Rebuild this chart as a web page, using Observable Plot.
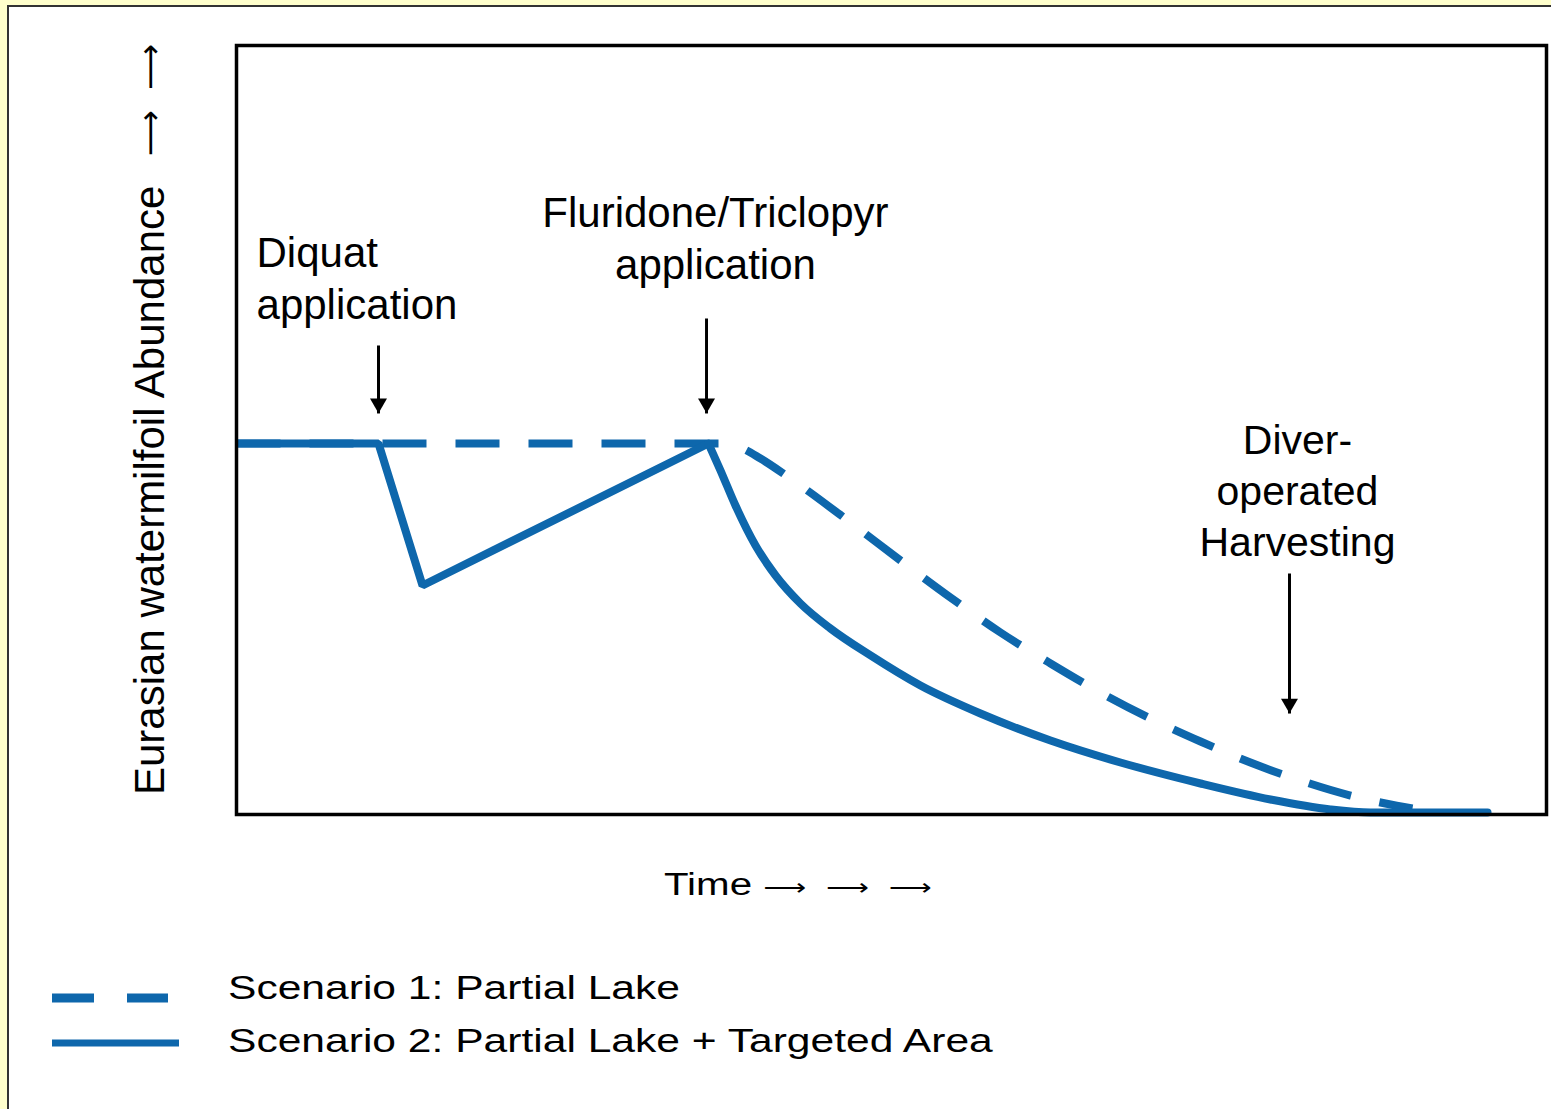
<!DOCTYPE html>
<html><head><meta charset="utf-8">
<script src="https://cdn.jsdelivr.net/npm/d3@7"></script>
<script src="https://cdn.jsdelivr.net/npm/@observablehq/plot@0.6"></script>
<style>
html,body{margin:0;padding:0;background:#FFFFCC;width:1551px;height:1109px;overflow:hidden;font-family:"Liberation Sans",Arial,sans-serif;}
#panel{position:absolute;left:7px;top:5px;width:1600px;height:1200px;background:#fff;border-left:2px solid #333;border-top:2px solid #333;}
#chart{position:absolute;left:0;top:0;}
.lbl{position:absolute;white-space:pre;color:#000;transform-origin:0 0;line-height:1;}
.arr{font-family:"DejaVu Sans",sans-serif;}
.sw{position:absolute;}
</style></head><body>
<div id="panel"></div>
<div id="chart"></div>
<div id="below"></div>
<script>
// ---- data (time and abundance in arbitrary 0–100 units) ----
const s1Time      = [0, 36.95, 38.47, 40.00, 42.29, 46.87, 50.69, 54.50, 58.32, 62.14, 65.95, 69.77, 73.59, 77.40, 81.22, 85.04, 87.71, 89.77];
const s1Abundance = [48.24, 48.24, 47.72, 46.29, 43.69, 37.97, 33.03, 28.22, 23.67, 19.64, 15.86, 12.48, 9.49, 6.76, 4.42, 2.47, 1.43, 0.78];
const s2Time      = [0, 10.84, 14.20, 36.03, 36.95, 38.09, 39.62, 41.15, 43.05, 45.34, 48.40, 52.21, 56.79, 62.14, 67.48, 73.59, 78.93, 83.51, 86.56, 95.50];
const s2Abundance = [48.24, 48.24, 29.78, 48.24, 44.73, 40.18, 34.98, 31.08, 27.44, 24.19, 20.68, 16.77, 13.13, 9.62, 6.76, 4.03, 1.95, 0.65, 0.26, 0.26];
const eventNames  = ["Diquat\napplication", "Fluridone/Triclopyr\napplication", "Diver-\noperated\nHarvesting"];
const eventTime   = [10.84, 35.88, 80.38];
const arrowTop    = [60.99, 64.50, 31.34];
const arrowTip    = [52.15, 52.15, 13.13];
const labelTime   = [1.53, 36.56, 80.99];
const labelAbundance = [69.96, 75.16, 42.39];
const seriesNames = ["Scenario 1: Partial Lake", "Scenario 2: Partial Lake + Targeted Area"];
const yTitle = "Eurasian watermilfoil Abundance";
const yArrows = "\u27F6  \u27F6";
const xTitle = "Time ";
const xArrows = "\u27F6 \u27F6 \u27F6";

// ---- build ----
const blue = "#0e67ac";
const font = "'Liberation Sans', Arial, sans-serif";
const s1 = s1Time.map((t, i) => ({t, v: s1Abundance[i]}));
const s2 = s2Time.map((t, i) => ({t, v: s2Abundance[i]}));
const peak = 3;
const events = eventNames.map((name, i) => ({name, t: eventTime[i], top: arrowTop[i], tip: arrowTip[i], lt: labelTime[i], lv: labelAbundance[i]}));

const plot = Plot.plot({
  width: 1551, height: 850,
  marginLeft: 236, marginRight: 5, marginTop: 45, marginBottom: 36,
  x: {domain: [0, 100], axis: null},
  y: {domain: [0, 100], axis: null},
  style: {background: "transparent", fontFamily: font, color: "#000", overflow: "visible"},
  marks: [
    Plot.line(s1, {x: "t", y: "v", stroke: blue, strokeWidth: 8, strokeDasharray: "44,29", strokeLinecap: "butt", curve: "monotone-x"}),
    Plot.line(s2.slice(0, peak + 1), {x: "t", y: "v", stroke: blue, strokeWidth: 8, strokeLinecap: "butt", strokeLinejoin: "miter", curve: "linear"}),
    Plot.line(s2.slice(peak), {x: "t", y: "v", stroke: blue, strokeWidth: 8, strokeLinecap: "round", curve: "monotone-x"}),
    Plot.link(events, {x1: "t", x2: "t", y1: "top", y2: "tip", stroke: "black", strokeWidth: 3, strokeLinecap: "butt"}),
    Plot.dot(events, {x: "t", y: "tip", symbol: "triangle", r: 6.3, fill: "black", stroke: "none", rotate: 180, dy: -10}),
    Plot.text(events.slice(0, 1), {x: "lt", y: "lv", text: "name", textAnchor: "start", fontSize: 42, lineHeight: 1.24, fill: "black"}),
    Plot.text(events.slice(1, 2), {x: "lt", y: "lv", text: "name", textAnchor: "middle", fontSize: 42, lineHeight: 1.24, fill: "black"}),
    Plot.text(events.slice(2, 3), {x: "lt", y: "lv", text: "name", textAnchor: "middle", fontSize: 41, lineHeight: 1.25, fill: "black"}),
    Plot.text([yTitle], {text: d => d, frameAnchor: "left", dx: -86, dy: 365, rotate: -90, textAnchor: "start", fontSize: 42, fill: "black"}),
    Plot.text([yArrows], {text: d => d, frameAnchor: "left", dx: -86, dy: -274, rotate: -90, textAnchor: "start", fontSize: 32, fontFamily: "DejaVu Sans", fill: "black"}),
    Plot.frame({stroke: "black", strokeWidth: 3.5})
  ]
});
document.getElementById("chart").appendChild(plot);

// x title and legend below the plot
const below = document.getElementById("below");
const xl = document.createElement("div");
xl.className = "lbl";
xl.appendChild(document.createTextNode(xTitle));
const xa = document.createElement("span");
xa.className = "arr";
xa.textContent = xArrows;
Object.assign(xa.style, {fontSize: "23px", wordSpacing: "8px"});
xl.appendChild(xa);
Object.assign(xl.style, {left: "664px", top: "869px", fontSize: "31px", transform: "scaleX(1.3)"});
below.appendChild(xl);

const swatches = [
  {top: 992, dash: "42,33", w: 9, len: 116},
  {top: 1037, dash: null, w: 7, len: 127}
];
seriesNames.forEach((name, i) => {
  const s = swatches[i];
  const svg = d3.create("svg").attr("class", "sw").attr("width", 130).attr("height", 12)
    .style("left", "52px").style("top", s.top + "px");
  svg.append("line").attr("x1", 0).attr("x2", s.len).attr("y1", 6).attr("y2", 6)
    .attr("stroke", blue).attr("stroke-width", s.w).attr("stroke-dasharray", s.dash);
  below.appendChild(svg.node());
  const t = document.createElement("div");
  t.className = "lbl";
  t.textContent = name;
  Object.assign(t.style, {left: "228px", top: (i === 0 ? 971 : 1024) + "px", fontSize: "33px", transform: "scaleX(1.29)"});
  below.appendChild(t);
});
</script>
</body></html>
